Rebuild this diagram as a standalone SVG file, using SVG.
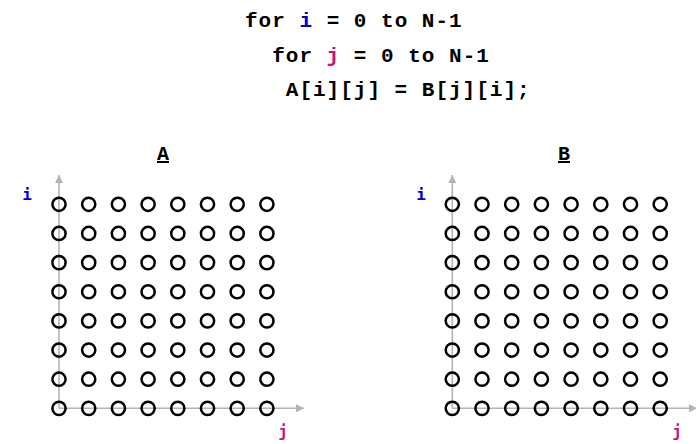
<svg xmlns="http://www.w3.org/2000/svg" xmlns:xlink="http://www.w3.org/1999/xlink" width="696" height="444" viewBox="0 0 696 444">
<style>
.code{font-family:"Liberation Mono","DejaVu Sans Mono",monospace;font-weight:bold;font-size:21px;letter-spacing:1px;fill:#000}
.title{font-family:"Liberation Mono","DejaVu Sans Mono",monospace;font-weight:bold;font-size:20px;fill:#000;text-decoration:underline}
.lab{font-family:"DejaVu Sans Mono","Liberation Mono",monospace;font-weight:bold;font-size:16px}
.bi{fill:#0000cc}
.pj{fill:#cc1177}
.ax{stroke:#b4b4b4;stroke-width:1.6;fill:none}
.c{fill:none;stroke:#000;stroke-width:2.5}
</style>
<defs>
<marker id="ah" viewBox="0 0 10 10" refX="10" refY="5" markerWidth="5" markerHeight="5" orient="auto" markerUnits="strokeWidth">
<path d="M0,0 L10,5 L0,10 z" fill="#b4b4b4"/>
</marker>
<circle id="o" r="6.6" class="c"/>
<g id="row">
<use xlink:href="#o" x="0"/><use xlink:href="#o" x="29.7"/><use xlink:href="#o" x="59.4"/><use xlink:href="#o" x="89.1"/><use xlink:href="#o" x="118.8"/><use xlink:href="#o" x="148.5"/><use xlink:href="#o" x="178.2"/><use xlink:href="#o" x="207.9"/>
</g>
<g id="grid">
<use xlink:href="#row" y="0"/><use xlink:href="#row" y="29.15"/><use xlink:href="#row" y="58.3"/><use xlink:href="#row" y="87.45"/><use xlink:href="#row" y="116.6"/><use xlink:href="#row" y="145.75"/><use xlink:href="#row" y="174.9"/><use xlink:href="#row" y="204.05"/>
</g>
</defs>
<g id="code">
<text class="code" x="245" y="27">for <tspan class="bi">i</tspan> = 0 to N-1</text>
<text class="code" x="272.2" y="62">for <tspan class="pj">j</tspan> = 0 to N-1</text>
<text class="code" x="285.8" y="96">A[i][j] = B[j][i];</text>
</g>
<g id="connectors">
<line class="ax" x1="59" y1="408.3" x2="59" y2="175" marker-end="url(#ah)"/>
<line class="ax" x1="59" y1="408.3" x2="304" y2="408.3" marker-end="url(#ah)"/>
<line class="ax" x1="452.3" y1="408.3" x2="452.3" y2="175" marker-end="url(#ah)"/>
<line class="ax" x1="452.3" y1="408.3" x2="697" y2="408.3" marker-end="url(#ah)"/>
</g>
<g id="arrayA">
<text class="title" x="163" y="160" text-anchor="middle">A</text>
<text class="lab bi" x="27" y="200" text-anchor="middle">i</text>
<text class="lab pj" x="283" y="437" text-anchor="middle">j</text>
<use xlink:href="#grid" x="59" y="204.3"/>
</g>
<g id="arrayB">
<text class="title" x="564" y="160" text-anchor="middle">B</text>
<text class="lab bi" x="421" y="200" text-anchor="middle">i</text>
<text class="lab pj" x="677" y="437" text-anchor="middle">j</text>
<use xlink:href="#grid" x="452.3" y="204.3"/>
</g>
</svg>
